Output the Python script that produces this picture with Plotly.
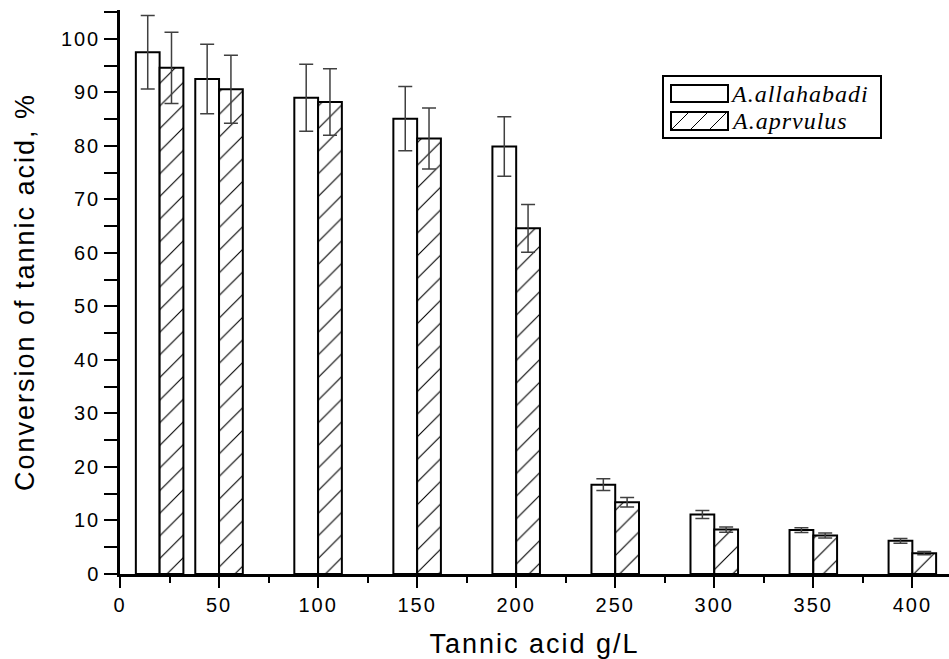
import plotly.graph_objects as go

# ---- data ----
tannic_acid = [20, 50, 100, 150, 200, 250, 300, 350, 400]
allahabadi = [97.5, 92.5, 89.0, 85.1, 79.9, 16.7, 11.1, 8.2, 6.2]
allahabadi_err = [6.85, 6.5, 6.25, 6.0, 5.55, 1.1, 0.75, 0.45, 0.45]
aprvulus = [94.6, 90.6, 88.2, 81.4, 64.6, 13.4, 8.3, 7.2, 3.9]
aprvulus_err = [6.65, 6.35, 6.2, 5.7, 4.45, 0.9, 0.5, 0.45, 0.3]
series_names = ["A.allahabadi", "A.aprvulus"]
x_ticks = [0, 50, 100, 150, 200, 250, 300, 350, 400]
y_ticks = [0, 10, 20, 30, 40, 50, 60, 70, 80, 90, 100]

W, H = 949, 659
ML, MR, MT, MB = 120, 0, 10, 85
PW, PH = W - ML - MR, H - MT - MB

def px(xp):
    return (xp - ML) / PW

def py(yp):
    return (H - MB - yp) / PH

fig = go.Figure()
fig.add_trace(go.Bar(
    x=tannic_acid, y=allahabadi, name=series_names[0],
    width=12, offset=-12,
    marker=dict(color="white", line=dict(color="black", width=2)),
    error_y=dict(type="data", array=allahabadi_err, visible=True,
                 color="#404040", thickness=1.5, width=7),
    showlegend=False,
))
fig.add_trace(go.Bar(
    x=tannic_acid, y=aprvulus, name=series_names[1],
    width=12, offset=0,
    marker=dict(color="white", line=dict(color="black", width=2),
                pattern=dict(shape="/", fgcolor="black", bgcolor="white",
                             size=16, solidity=0.07, fillmode="replace")),
    error_y=dict(type="data", array=aprvulus_err, visible=True,
                 color="#404040", thickness=1.5, width=7),
    showlegend=False,
))

tickfont = dict(family="Liberation Sans, Arial, sans-serif", size=20, color="black")
titlefont = dict(family="Liberation Sans, Arial, sans-serif", size=27, color="black")

fig.update_layout(
    width=W, height=H,
    margin=dict(l=ML, r=MR, t=MT, b=MB),
    paper_bgcolor="white", plot_bgcolor="white",
    barmode="overlay",
    xaxis=dict(
        range=[0, 418.5], tickvals=x_ticks, ticks="outside", ticklen=11,
        tickwidth=2, tickcolor="black", showline=True, linewidth=2.5,
        linecolor="black", showgrid=False, zeroline=False, tickfont=tickfont,
        minor=dict(dtick=25, tick0=0, ticks="outside", ticklen=6, tickwidth=2,
                   tickcolor="black", showgrid=False),
        title=dict(text="Tannic acid g/L", font=titlefont, standoff=23),
    ),
    yaxis=dict(
        range=[0, 105.4], tickvals=y_ticks, ticks="outside", ticklen=13,
        tickwidth=2, tickcolor="black", showline=True, linewidth=2.5,
        linecolor="black", showgrid=False, zeroline=False, tickfont=tickfont,
        minor=dict(dtick=5, tick0=0, ticks="outside", ticklen=13, tickwidth=2,
                   tickcolor="black", showgrid=False),
        title=dict(text="Conversion of tannic acid, %", font=titlefont, standoff=25),
    ),
    showlegend=False,
)

# ---- custom legend (box, swatches, labels) ----
shapes = []
shapes.append(dict(type="rect", xref="paper", yref="paper",
                   x0=px(663), x1=px(881), y0=py(138), y1=py(76),
                   line=dict(color="black", width=2), fillcolor="white", layer="above"))
shapes.append(dict(type="rect", xref="paper", yref="paper",
                   x0=px(671), x1=px(728), y0=py(102), y1=py(85),
                   line=dict(color="black", width=2), fillcolor="white", layer="above"))
shapes.append(dict(type="rect", xref="paper", yref="paper",
                   x0=px(671), x1=px(728), y0=py(130), y1=py(112),
                   line=dict(color="black", width=2), fillcolor="white", layer="above"))
for x0 in (671, 690, 709):
    shapes.append(dict(type="line", xref="paper", yref="paper",
                       x0=px(x0), y0=py(130), x1=px(x0 + 18), y1=py(112),
                       line=dict(color="black", width=1), layer="above"))
fig.update_layout(shapes=shapes)

legfont = dict(family="Liberation Serif, Times New Roman, serif", size=24, color="black")
for name, yc in zip(series_names, (93.5, 121)):
    fig.add_annotation(xref="paper", yref="paper", x=px(734), y=py(yc),
                       text="<i>" + name + "</i>", showarrow=False,
                       xanchor="left", yanchor="middle", font=legfont)

post = ("document.querySelectorAll('.xtick text, .ytick text, .g-xtitle text, "
        ".g-ytitle text').forEach(function(t){t.style.letterSpacing='2px';});"
        "document.querySelectorAll('.annotation-text').forEach(function(t)"
        "{t.style.letterSpacing='1px';});")

fig.write_html("out.html", post_script=post)
